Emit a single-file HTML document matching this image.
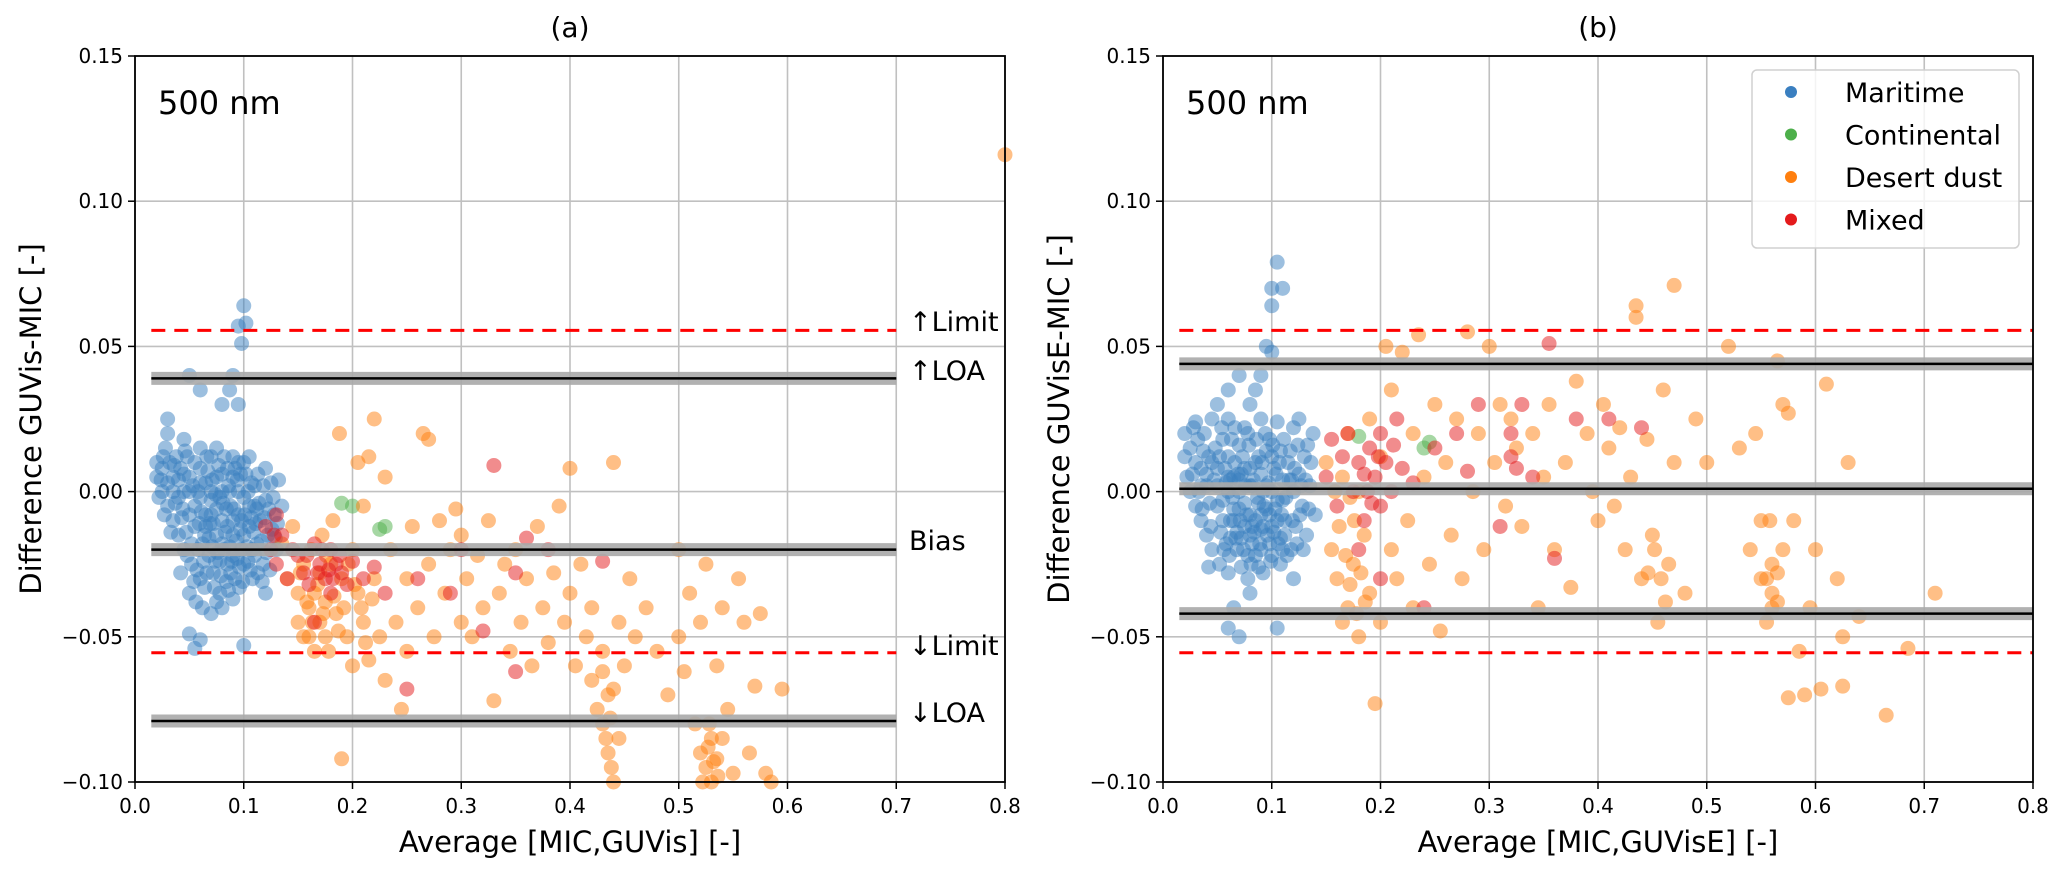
<!DOCTYPE html>
<html><head><meta charset="utf-8">
<style>
body{margin:0;background:#fff;}
svg{display:block;font-family:"DejaVu Sans","Liberation Sans",sans-serif;}
</style></head>
<body>
<svg id="fig" width="2067" height="877" viewBox="0 0 2067 877" xmlns="http://www.w3.org/2000/svg">
<rect width="2067" height="877" fill="#fff"/>
</svg>
<script>
const xTicks=[0.0,0.1,0.2,0.3,0.4,0.5,0.6,0.7,0.8];
const yTicks=[0.15,0.10,0.05,0.00,-0.05,-0.10];
const yTickLabels=["0.15","0.10","0.05","0.00","\u22120.05","\u22120.10"];
const seriesNames=["Maritime","Continental","Desert dust","Mixed"];
const seriesColors=["#3a7fc0","#4daf4a","#ff7f0e","#e41a1c"];
const linesA={upLimit:0.0555,upLOA:0.039,bias:-0.020,lowLimit:-0.0555,lowLOA:-0.079};
const linesB={upLimit:0.0555,upLOA:0.044,bias:0.001,lowLimit:-0.0555,lowLOA:-0.042};
const maritimeA=[0.02,0.005,0.02,0.01,0.022,-0.002,0.025,0.008,0.025,0.0,0.028,0.015,0.03,0.003,0.03,-0.005,0.032,0.01,0.035,-0.01,0.035,0.005,0.038,0.012,0.04,-0.002,0.04,-0.015,0.042,0.008,0.045,0.0,0.045,-0.02,0.048,0.012,0.05,-0.008,0.05,0.005,0.052,-0.025,0.055,0.01,0.055,-0.012,0.058,0.0,0.06,-0.03,0.06,0.008,0.062,-0.018,0.065,0.003,0.065,-0.008,0.068,-0.022,0.07,0.012,0.07,-0.003,0.072,-0.028,0.075,0.005,0.075,-0.015,0.078,-0.035,0.08,0.0,0.08,-0.01,0.082,-0.02,0.085,0.008,0.085,-0.025,0.088,-0.005,0.09,-0.015,0.09,0.005,0.092,-0.03,0.095,-0.008,0.095,0.01,0.098,-0.02,0.1,-0.002,0.1,-0.025,0.102,0.006,0.105,-0.012,0.108,-0.03,0.11,-0.005,0.11,0.002,0.112,-0.018,0.115,-0.01,0.118,-0.025,0.12,-0.003,0.122,-0.015,0.125,0.003,0.128,-0.008,0.13,-0.02,0.06,-0.002,0.065,-0.012,0.07,0.0,0.075,-0.006,0.08,-0.018,0.085,-0.012,0.09,-0.022,0.095,0.0,0.1,-0.015,0.105,-0.005,0.05,0.0,0.055,-0.005,0.045,0.006,0.04,0.004,0.035,0.0,0.06,0.003,0.07,-0.008,0.08,0.006,0.09,-0.01,0.1,0.01,0.11,-0.022,0.058,-0.02,0.068,-0.016,0.078,-0.024,0.088,-0.028,0.098,-0.01,0.108,-0.02,0.118,0.002,0.042,-0.028,0.05,-0.035,0.062,-0.04,0.03,0.02,0.045,0.018,0.06,0.015,0.075,0.015,0.09,0.012,0.105,0.012,0.12,0.008,0.135,-0.005,0.132,0.004,0.1,0.064,0.095,0.057,0.102,0.058,0.098,0.051,0.087,0.035,0.09,0.04,0.05,0.04,0.06,0.035,0.03,0.025,0.08,0.03,0.095,0.03,0.05,-0.049,0.055,-0.054,0.06,-0.051,0.1,-0.053,0.08,-0.04,0.07,-0.042,0.12,-0.035,0.09,-0.037,0.075,-0.038,
0.027,-0.008,0.033,-0.014,0.037,-0.004,0.043,-0.009,0.047,-0.014,0.052,-0.018,0.053,0.002,0.057,-0.027,0.063,-0.024,0.064,-0.033,0.067,0.007,0.069,-0.011,0.071,-0.019,0.073,-0.033,0.074,-0.001,0.076,-0.021,0.077,0.009,0.079,-0.029,0.081,-0.004,0.083,-0.014,0.084,-0.031,0.086,0.002,0.087,-0.019,0.089,-0.024,0.091,-0.006,0.093,-0.017,0.094,0.004,0.096,-0.026,0.097,-0.013,0.099,-0.031,0.101,-0.008,0.103,-0.019,0.104,0.0,0.106,-0.027,0.107,-0.009,0.109,-0.014,0.111,-0.011,0.113,-0.028,0.114,-0.004,0.116,-0.017,0.117,-0.031,0.119,-0.009,0.121,-0.021,0.123,-0.006,0.124,-0.027,0.126,-0.013,0.127,-0.002,0.129,-0.016,0.131,-0.011,0.054,-0.031,0.056,-0.038,0.059,-0.011,0.061,-0.007,0.066,-0.028,0.072,-0.011,0.078,-0.002,0.084,-0.006,0.086,-0.034,0.094,-0.023,0.096,-0.033,0.104,-0.024,0.112,-0.006,0.064,-0.015,0.074,-0.024,0.044,-0.006,0.048,-0.022,0.066,0.012,0.082,0.012,0.092,0.008,0.046,0.014,0.036,0.009,0.026,0.012,0.024,0.004,0.071,0.004,0.087,0.0,0.097,0.006,0.107,0.003,0.113,0.006];
const continentalA=[0.19,-0.004,0.2,-0.005,0.225,-0.013,0.23,-0.012];
const dustA=[0.135,-0.018,0.14,-0.03,0.145,-0.012,0.15,-0.035,0.15,-0.045,0.155,-0.025,0.16,-0.04,0.16,-0.05,0.162,-0.02,0.165,-0.035,0.17,-0.028,0.17,-0.045,0.172,-0.015,0.175,-0.038,0.178,-0.055,0.18,-0.025,0.182,-0.01,0.185,-0.042,0.188,0.02,0.19,-0.03,0.19,-0.092,0.195,-0.05,0.2,-0.02,0.2,-0.06,0.205,0.01,0.205,-0.035,0.21,-0.005,0.21,-0.045,0.215,0.012,0.215,-0.058,0.22,0.025,0.22,-0.03,0.225,-0.05,0.23,0.005,0.23,-0.065,0.235,-0.02,0.24,-0.045,0.245,-0.075,0.25,-0.03,0.25,-0.055,0.255,-0.012,0.26,-0.04,0.265,0.02,0.27,0.018,0.27,-0.025,0.275,-0.05,0.28,-0.01,0.285,-0.035,0.29,-0.02,0.295,-0.006,0.3,-0.045,0.3,-0.015,0.305,-0.03,0.31,-0.05,0.315,-0.022,0.32,-0.04,0.325,-0.01,0.33,-0.072,0.335,-0.035,0.34,-0.025,0.345,-0.055,0.35,-0.02,0.355,-0.045,0.36,-0.03,0.365,-0.06,0.37,-0.012,0.375,-0.04,0.38,-0.052,0.385,-0.028,0.39,-0.005,0.395,-0.045,0.4,0.008,0.4,-0.035,0.405,-0.06,0.41,-0.025,0.415,-0.05,0.42,-0.065,0.42,-0.04,0.425,-0.075,0.43,-0.08,0.43,-0.055,0.435,-0.09,0.435,-0.07,0.44,-0.1,0.44,0.01,0.445,-0.085,0.445,-0.045,0.45,-0.06,0.455,-0.03,0.46,-0.05,0.47,-0.04,0.48,-0.055,0.49,-0.07,0.5,-0.05,0.5,-0.02,0.505,-0.062,0.51,-0.035,0.515,-0.08,0.52,-0.09,0.52,-0.045,0.525,-0.095,0.525,-0.025,0.53,-0.1,0.53,-0.085,0.535,-0.06,0.535,-0.092,0.54,-0.04,0.545,-0.075,0.55,-0.097,0.555,-0.03,0.56,-0.045,0.565,-0.09,0.57,-0.067,0.575,-0.042,0.58,-0.097,0.585,-0.1,0.595,-0.068,0.8,0.116,
0.152,-0.028,0.158,-0.038,0.163,-0.045,0.168,-0.032,0.173,-0.042,0.176,-0.022,0.183,-0.036,0.187,-0.048,0.192,-0.04,0.196,-0.025,0.202,-0.032,0.208,-0.04,0.212,-0.052,0.218,-0.037,0.155,-0.05,0.165,-0.055,0.175,-0.05,0.43,-0.062,0.433,-0.085,0.437,-0.078,0.44,-0.068,0.438,-0.095,0.527,-0.088,0.532,-0.093,0.528,-0.08,0.536,-0.098,0.54,-0.085,0.522,-0.1];
const mixedA=[0.12,-0.012,0.125,-0.02,0.13,-0.008,0.13,-0.025,0.135,-0.015,0.14,-0.03,0.145,-0.02,0.15,-0.022,0.155,-0.028,0.16,-0.032,0.165,-0.045,0.165,-0.018,0.17,-0.025,0.175,-0.03,0.18,-0.02,0.18,-0.035,0.185,-0.025,0.19,-0.028,0.195,-0.032,0.2,-0.024,0.21,-0.03,0.22,-0.026,0.23,-0.035,0.25,-0.068,0.26,-0.03,0.29,-0.035,0.32,-0.048,0.33,0.009,0.35,-0.028,0.36,-0.016,0.38,-0.02,0.43,-0.024,0.35,-0.062,0.3,-0.02,0.172,-0.02,0.178,-0.027,0.182,-0.03,0.188,-0.022,0.168,-0.028,0.158,-0.022,0.128,-0.015];
const maritimeB=[0.02,0.012,0.02,0.02,0.022,0.005,0.025,0.015,0.025,0.0,0.028,0.022,0.03,0.01,0.03,-0.005,0.032,0.018,0.035,-0.01,0.035,0.008,0.038,0.02,0.04,0.002,0.04,-0.015,0.042,0.012,0.045,0.025,0.045,-0.02,0.048,0.015,0.05,-0.005,0.05,0.008,0.052,-0.025,0.055,0.018,0.055,-0.01,0.058,0.003,0.06,-0.028,0.06,0.012,0.062,-0.016,0.065,0.005,0.065,-0.006,0.068,-0.02,0.07,0.016,0.07,0.0,0.072,-0.026,0.075,0.008,0.075,-0.012,0.078,-0.03,0.08,0.002,0.08,-0.008,0.082,-0.018,0.085,0.01,0.085,-0.022,0.088,-0.004,0.09,-0.013,0.09,0.006,0.092,-0.028,0.095,-0.006,0.095,0.014,0.098,-0.018,0.1,0.0,0.1,-0.022,0.102,0.008,0.105,-0.01,0.108,-0.025,0.11,-0.003,0.11,0.004,0.112,-0.015,0.115,0.01,0.118,-0.02,0.12,0.0,0.122,-0.012,0.125,0.006,0.128,-0.005,0.13,0.012,0.132,-0.015,0.135,0.002,0.138,0.02,0.14,-0.008,0.06,0.0,0.065,-0.01,0.07,0.004,0.075,-0.004,0.08,-0.015,0.085,-0.01,0.09,-0.02,0.095,0.002,0.1,-0.012,0.105,-0.003,0.05,0.002,0.055,-0.003,0.045,0.01,0.04,0.006,0.035,0.002,0.06,0.005,0.07,-0.006,0.08,0.008,0.09,-0.008,0.1,0.012,0.11,-0.02,0.058,-0.018,0.068,-0.014,0.078,-0.022,0.088,-0.026,0.098,-0.008,0.108,-0.016,0.118,0.004,0.042,-0.026,0.03,0.024,0.06,0.025,0.075,0.022,0.09,0.025,0.105,0.024,0.12,0.022,0.125,0.025,0.105,0.079,0.1,0.07,0.11,0.07,0.1,0.064,0.095,0.05,0.1,0.048,0.09,0.04,0.085,0.035,0.07,0.04,0.06,0.035,0.05,0.03,0.08,0.03,0.06,-0.047,0.07,-0.05,0.105,-0.047,0.065,-0.04,0.08,-0.035,0.12,-0.03,
0.027,0.006,0.033,0.0,0.037,0.014,0.043,-0.004,0.047,0.004,0.052,0.012,0.053,-0.014,0.057,0.008,0.061,-0.022,0.063,0.018,0.064,-0.002,0.066,0.01,0.067,-0.016,0.069,0.006,0.071,-0.01,0.073,0.012,0.074,-0.02,0.076,0.002,0.077,-0.008,0.079,0.016,0.081,-0.025,0.083,0.004,0.084,-0.014,0.086,0.018,0.087,-0.002,0.089,-0.018,0.091,0.01,0.093,-0.005,0.094,0.02,0.096,-0.015,0.097,0.003,0.099,-0.024,0.101,0.016,0.103,-0.006,0.104,0.006,0.106,-0.018,0.107,0.01,0.109,-0.008,0.111,0.018,0.113,-0.002,0.114,-0.022,0.116,0.004,0.117,0.014,0.119,-0.01,0.121,0.008,0.123,-0.018,0.124,0.016,0.126,-0.008,0.127,0.002,0.129,-0.02,0.131,0.004,0.133,0.016,0.134,-0.006,0.136,0.01,0.056,-0.02,0.062,-0.01,0.072,-0.016,0.082,-0.012,0.092,-0.012,0.102,-0.014,0.112,-0.01,0.062,0.004,0.072,0.006,0.082,0.002,0.092,0.0,0.044,-0.012,0.036,-0.006,0.054,0.022,0.066,0.022,0.078,0.02,0.088,0.012,0.098,0.018,0.108,0.014];
const continentalB=[0.18,0.019,0.24,0.015,0.245,0.017];
const dustB=[0.15,0.01,0.155,-0.02,0.16,-0.03,0.165,0.005,0.17,-0.04,0.17,0.02,0.175,-0.025,0.18,0.0,0.18,-0.05,0.185,-0.015,0.19,0.025,0.19,-0.035,0.195,-0.073,0.2,0.012,0.2,-0.045,0.205,0.05,0.21,-0.02,0.21,0.035,0.215,-0.03,0.22,0.048,0.225,-0.01,0.23,0.02,0.23,-0.04,0.235,0.054,0.24,0.005,0.245,-0.025,0.25,0.03,0.255,-0.048,0.26,0.01,0.265,-0.015,0.27,0.025,0.275,-0.03,0.28,0.055,0.285,0.0,0.29,0.02,0.295,-0.02,0.3,0.05,0.305,0.01,0.31,0.03,0.315,-0.005,0.32,0.025,0.325,0.015,0.33,-0.012,0.34,0.02,0.345,-0.04,0.35,0.005,0.355,0.03,0.36,-0.02,0.37,0.01,0.375,-0.033,0.38,0.038,0.39,0.02,0.395,0.0,0.4,-0.01,0.405,0.03,0.41,0.015,0.415,-0.005,0.42,0.022,0.425,-0.02,0.43,0.005,0.435,0.064,0.435,0.06,0.44,-0.03,0.445,0.018,0.45,-0.015,0.455,-0.045,0.46,0.035,0.465,-0.025,0.47,0.071,0.47,0.01,0.48,-0.035,0.49,0.025,0.5,0.01,0.52,0.05,0.53,0.015,0.54,-0.02,0.55,-0.03,0.555,-0.045,0.56,-0.025,0.565,0.045,0.565,-0.038,0.57,0.03,0.575,0.027,0.58,-0.01,0.585,-0.055,0.59,-0.07,0.595,-0.04,0.6,-0.02,0.605,-0.068,0.61,0.037,0.62,-0.03,0.625,-0.05,0.63,0.01,0.64,-0.043,0.625,-0.067,0.665,-0.077,0.685,-0.054,0.71,-0.035,0.575,-0.071,0.56,-0.04,0.55,-0.01,0.545,0.02,
0.162,-0.012,0.168,-0.022,0.172,-0.032,0.176,-0.01,0.182,-0.028,0.186,-0.038,0.172,-0.002,0.158,0.0,0.165,-0.045,0.178,-0.042,0.555,-0.03,0.56,-0.035,0.565,-0.028,0.57,-0.02,0.558,-0.01,0.452,-0.02,0.458,-0.03,0.462,-0.038,0.446,-0.028];
const mixedB=[0.15,0.005,0.155,0.018,0.16,-0.005,0.165,0.012,0.17,0.02,0.175,0.0,0.18,0.01,0.185,-0.01,0.19,0.015,0.195,0.005,0.2,0.02,0.2,-0.005,0.205,0.01,0.21,0.0,0.215,0.025,0.22,0.008,0.23,0.003,0.24,-0.04,0.25,0.015,0.27,0.02,0.28,0.007,0.29,0.03,0.31,-0.012,0.32,0.012,0.33,0.03,0.34,0.005,0.355,0.051,0.36,-0.023,0.38,0.025,0.41,0.025,0.44,0.022,0.2,-0.03,0.18,-0.02,0.188,0.0,0.192,-0.004,0.198,0.012,0.185,0.006,0.212,0.016,0.32,0.02,0.325,0.008];

const NS="http://www.w3.org/2000/svg";
const svg=document.getElementById('fig');
function mk(tag,attrs,parent){const e=document.createElementNS(NS,tag);for(const k in attrs)e.setAttribute(k,attrs[k]);(parent||svg).appendChild(e);return e;}

function panel(opt){
  const L=opt.left,R=opt.left+870,T=56,B=782;
  const xs=v=>L+(v-0)/(0.8)*(R-L);
  const ys=v=>T+(0.15-v)/(0.25)*(B-T);
  const g=mk('g',{});
  
  
  xTicks.forEach(t=>{const l=mk('line',{x1:xs(t),x2:xs(t),y1:T,y2:B,stroke:'#c0c0c0','stroke-width':1.6},g);
    });
  yTicks.forEach(t=>{const l=mk('line',{x1:L,x2:R,y1:ys(t),y2:ys(t),stroke:'#c0c0c0','stroke-width':1.6},g);
    });
  opt.sets.forEach((arr,si)=>{
    for(let i=0;i<arr.length;i+=2){
      const c=mk('circle',{cx:xs(arr[i]),cy:ys(arr[i+1]),r:7.5,fill:seriesColors[si],'fill-opacity':0.5},g);
      
      
    }
  });
  const x0=xs(0.015),x1=xs(opt.lineEnd);
  [['upLOA','upper-loa-line'],['bias','bias-line'],['lowLOA','lower-loa-line']].forEach(([k,n])=>{
    const band=mk('line',{x1:x0,x2:x1,y1:ys(opt.lines[k]),y2:ys(opt.lines[k]),stroke:'#a8a8a8','stroke-width':13,'stroke-opacity':0.9},g);
    
    const ln=mk('line',{x1:x0,x2:x1,y1:ys(opt.lines[k]),y2:ys(opt.lines[k]),stroke:'#000','stroke-width':2.5},g);
    
  });
  [['upLimit','upper-limit-line'],['lowLimit','lower-limit-line']].forEach(([k,n])=>{
    const ln=mk('line',{x1:x0,x2:x1,y1:ys(opt.lines[k]),y2:ys(opt.lines[k]),stroke:'#ff0000','stroke-width':3,'stroke-dasharray':'14,9'},g);
    
  });
  const fr=mk('rect',{x:L,y:T,width:R-L,height:B-T,fill:'none',stroke:'#000','stroke-width':1.8},g);
  
  xTicks.forEach(t=>{
    mk('line',{x1:xs(t),x2:xs(t),y1:B,y2:B+7,stroke:'#000','stroke-width':1.5},g);
    const tx=mk('text',{x:xs(t),y:813,'text-anchor':'middle','font-size':20},g);tx.textContent=t.toFixed(1);
    
  });
  yTicks.forEach((t,i)=>{
    mk('line',{x1:L-7,x2:L,y1:ys(t),y2:ys(t),stroke:'#000','stroke-width':1.5},g);
    const tx=mk('text',{x:L-12,y:ys(t)+7,'text-anchor':'end','font-size':20},g);tx.textContent=yTickLabels[i];
    
  });
  const title=mk('text',{x:(L+R)/2,y:37,'text-anchor':'middle','font-size':28},g);title.textContent=opt.title;
  
  const wl=mk('text',{x:L+23,y:114,'font-size':32},g);wl.textContent='500 nm';
  
  const xl=mk('text',{x:(L+R)/2,y:852,'text-anchor':'middle','font-size':29},g);xl.textContent=opt.xlabel;
  
  const yl=mk('text',{x:0,y:0,'text-anchor':'middle','font-size':29,transform:`translate(${L-94},${(T+B)/2}) rotate(-90)`},g);yl.textContent=opt.ylabel;
  
  return {xs,ys,g};
}

const pa=panel({left:135,name:'panel-a',title:'(a)',xlabel:'Average [MIC,GUVis] [-]',ylabel:'Difference GUVis-MIC [-]',lines:linesA,lineEnd:0.7,sets:[maritimeA,continentalA,dustA,mixedA]});
[['\u2191Limit',331,'upper-limit-label'],['\u2191LOA',380,'upper-loa-label'],['Bias',550,'bias-label'],['\u2193Limit',655,'lower-limit-label'],['\u2193LOA',722,'lower-loa-label']].forEach(([t,y,n])=>{
  const tx=mk('text',{x:909,y:y,'font-size':27},pa.g);tx.textContent=t;
  
});
const pb=panel({left:1163,name:'panel-b',title:'(b)',xlabel:'Average [MIC,GUVisE] [-]',ylabel:'Difference GUVisE-MIC [-]',lines:linesB,lineEnd:0.8,sets:[maritimeB,continentalB,dustB,mixedB]});
const lg=mk('g',{},pb.g);

mk('rect',{x:1752,y:70,width:267,height:178,rx:5,fill:'#fff','fill-opacity':0.8,stroke:'#d0d0d0','stroke-width':1.5},lg);
seriesNames.forEach((n,i)=>{
  const y=92+i*42.5;
  const d=mk('circle',{cx:1791,cy:y,r:6,fill:seriesColors[i]},lg);
  
  const t=mk('text',{x:1845,y:y+10,'font-size':27},lg);t.textContent=n;
  
});
</script>
</body></html>
